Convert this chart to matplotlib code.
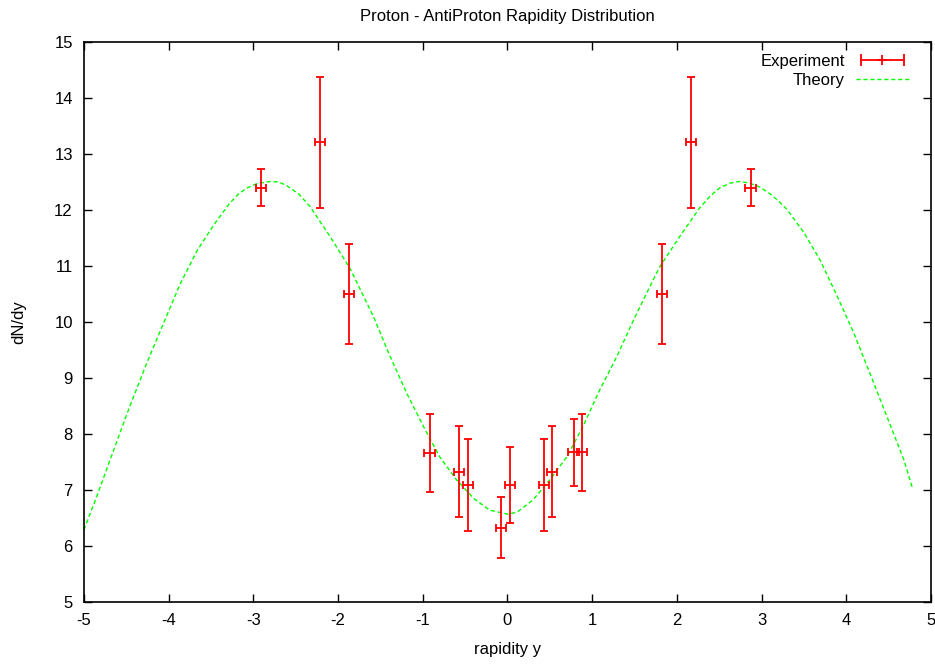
#!/usr/bin/env python3
# -*- coding: utf-8 -*-
"""
Proton - AntiProton rapidity distribution, gnuplot look.
"""

import matplotlib
matplotlib.use('Agg')
import matplotlib.pyplot as plt
from matplotlib.lines import Line2D
from matplotlib.legend_handler import HandlerLine2D, HandlerTuple

plt.rcParams['font.family'] = ['Liberation Sans', 'DejaVu Sans']
plt.rcParams['axes.unicode_minus'] = False

# experiment points
exp_y = [-2.91, -2.21, -1.87, -0.92, -0.57, -0.47, -0.08, 0.03,
         0.43, 0.53, 0.78, 0.88, 1.82, 2.17, 2.87]
exp_dndy = [12.40, 13.21, 10.50, 7.66, 7.33, 7.09, 6.33, 7.09,
            7.09, 7.33, 7.67, 7.67, 10.50, 13.21, 12.40]
exp_err = [0.33, 1.17, 0.90, 0.69, 0.81, 0.82, 0.55, 0.68,
           0.82, 0.81, 0.59, 0.69, 0.90, 1.17, 0.33]
exp_xerr = 0.06

# theory curve
th_y = [-5.0, -4.85, -4.65, -4.46, -4.26, -4.06, -3.87, -3.67, -3.47,
        -3.28, -3.18, -3.08, -2.96, -2.80, -2.70, -2.61, -2.46, -2.33,
        -2.10, -1.86, -1.58, -1.39, -1.19, -0.99, -0.80, -0.60, -0.40,
        -0.21, 0.0, 0.11, 0.30, 0.50, 0.70, 0.89, 1.09, 1.29, 1.49,
        1.68, 1.80, 2.04, 2.27, 2.40, 2.51, 2.63, 2.74, 2.86, 2.98,
        3.10, 3.20, 3.30, 3.49, 3.69, 3.89, 4.09, 4.28, 4.48, 4.68, 4.78]
th_dndy = [6.29, 6.88, 7.71, 8.49, 9.26, 9.98, 10.66, 11.26, 11.73,
           12.12, 12.28, 12.39, 12.47, 12.51, 12.50, 12.44, 12.28, 12.06,
           11.54, 10.96, 10.09, 9.40, 8.73, 8.13, 7.59, 7.18, 6.85,
           6.64, 6.57, 6.60, 6.82, 7.18, 7.59, 8.13, 8.79, 9.38, 10.04,
           10.63, 10.99, 11.54, 12.04, 12.26, 12.40, 12.48, 12.51, 12.48, 12.41,
           12.29, 12.16, 12.01, 11.62, 11.11, 10.47, 9.80, 9.08, 8.31, 7.54, 7.04]

RED = '#ff0000'
GREEN = '#00ff00'


def make_plot():
    fig = plt.figure(figsize=(9.35, 6.64), dpi=100)
    ax = fig.add_axes([0.0898, 0.0934, 0.9059, 0.8433])

    ax.plot(th_y, th_dndy, color=GREEN, lw=1.0, dashes=(3, 2))
    ax.errorbar(exp_y, exp_dndy, yerr=exp_err, xerr=exp_xerr, fmt='none',
                ecolor=RED, elinewidth=1.3, capsize=3.2, capthick=1.3)

    ax.set_xlim(-5, 5)
    ax.set_ylim(5, 15)
    ax.set_xticks(range(-5, 6))
    ax.set_yticks(range(5, 16))
    ax.tick_params(direction='in', length=6, width=1, top=True, right=True,
                   labelsize=12, pad=8)
    for sp in ax.spines.values():
        sp.set_linewidth(1.2)

    ax.set_title('Proton - AntiProton Rapidity Distribution', fontsize=12, pad=15.5)
    ax.set_xlabel('rapidity y', fontsize=12, labelpad=10)
    ax.set_ylabel('dN/dy', fontsize=12, labelpad=20)

    # legend samples like gnuplot
    caps = Line2D([], [], color=RED, lw=1.3, marker='|', ms=8, mew=1.3)
    plus = Line2D([], [], color=RED, lw=0, marker='+', ms=7, mew=1.3)
    theory = Line2D([], [], color=GREEN, lw=1.0, dashes=(3, 2))
    ax.legend([(caps, plus), theory], ['Experiment', 'Theory'],
              handler_map={caps: HandlerLine2D(numpoints=2),
                           plus: HandlerLine2D(numpoints=1),
                           tuple: HandlerTuple(ndivide=1)},
              loc='upper right', bbox_to_anchor=(0.982, 0.99),
              frameon=False, markerfirst=False,
              fontsize=12, handlelength=3.2, handletextpad=0.65,
              labelspacing=0.22, borderaxespad=0.0)

    fig.savefig('out.png', dpi=100)


if __name__ == '__main__':
    make_plot()
